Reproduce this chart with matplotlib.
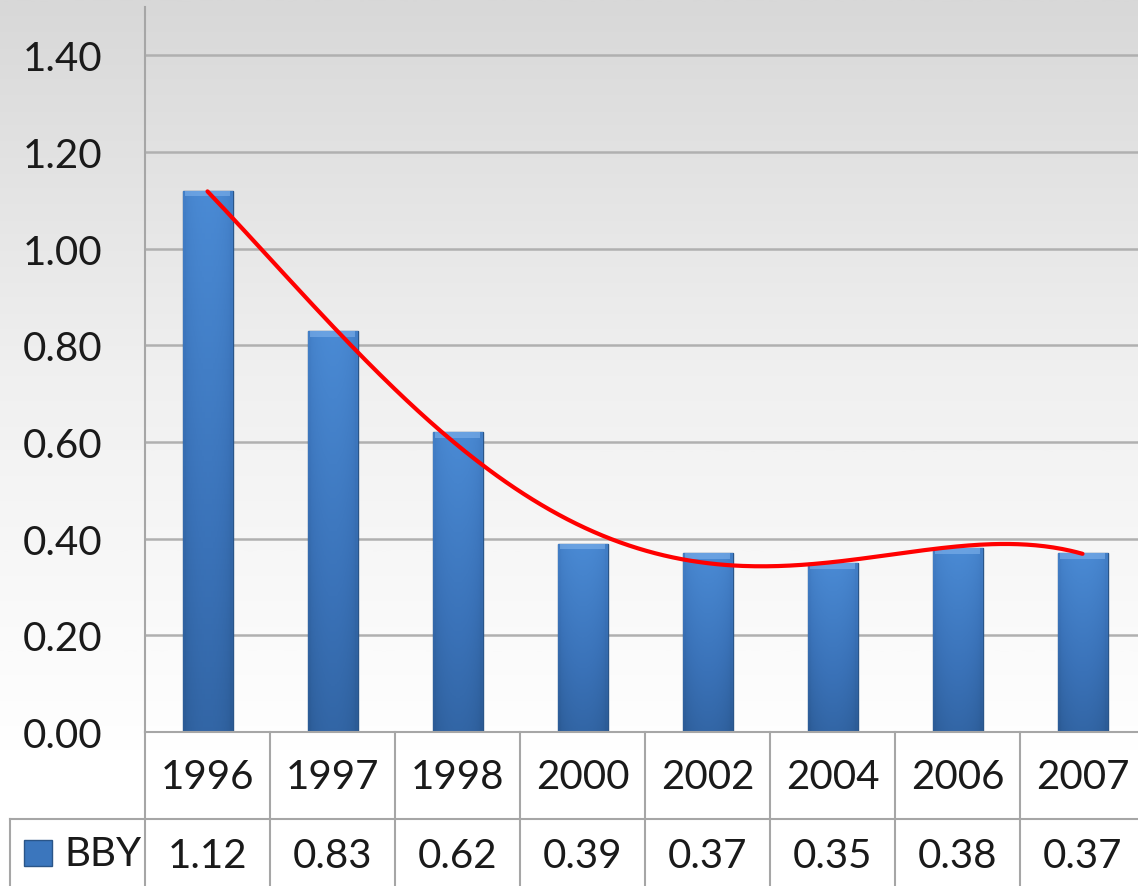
import numpy as np
import matplotlib
matplotlib.use("Agg")
import matplotlib.pyplot as plt
from matplotlib.colors import LinearSegmentedColormap
from matplotlib.transforms import blended_transform_factory

years = ["1996", "1997", "1998", "2000", "2002", "2004", "2006", "2007"]
values = [1.12, 0.83, 0.62, 0.39, 0.37, 0.35, 0.38, 0.37]
series_name = "BBY"
yticks = [0.0, 0.2, 0.4, 0.6, 0.8, 1.0, 1.2, 1.4]

plt.rcParams['font.family'] = ['Lato', 'DejaVu Sans']
W, H = 1138, 887
FS = 29
fig = plt.figure(figsize=(W / 100, H / 100), dpi=100)

# background gradient
bg = fig.add_axes([0, 0, 1, 1], zorder=-10)
bg.set_axis_off()
g = np.linspace(0, 1, 400).reshape(-1, 1)
g = np.clip(g / 0.85, 0, 1)
bgcmap = LinearSegmentedColormap.from_list("bg", ["#d8d8d8", "#f0f0f0", "#ffffff"])
bg.imshow(g, aspect='auto', cmap=bgcmap, extent=[0, 1, 0, 1], origin='upper')
bg.set_xlim(0, 1); bg.set_ylim(0, 1)

x0, x1 = 145, 1145
ytop, ybot = 8, 733
ax = fig.add_axes([x0 / W, 1 - ybot / H, (x1 - x0) / W, (ybot - ytop) / H])
ax.patch.set_alpha(0)
n = len(years)
xs = np.arange(n)
ax.set_xlim(-0.5, n - 0.5)
ax.set_ylim(0, 1.5)
for s in ['top', 'right', 'bottom']:
    ax.spines[s].set_visible(False)
ax.spines['left'].set_color('#a6a6a6')
ax.spines['left'].set_linewidth(1.5)
ax.set_yticks(yticks)
ax.set_yticklabels([f"{v:.2f}" for v in yticks], fontsize=FS, color='#1a1a1a')
ax.tick_params(axis='y', length=0, pad=31)
ax.set_xticks([])
for v in yticks[1:]:
    ax.axhline(v, color='#b0b0b0', lw=1.8, zorder=1)

bar_cmap = LinearSegmentedColormap.from_list("bar", ["#2b5a94", "#3a72b8", "#4a8ad4"])
bars = ax.bar(xs, values, width=0.4, color='#3b76bd', edgecolor='#2a5588', lw=1.0, zorder=2)
for b in bars:
    bx, by = b.get_x(), b.get_y()
    bw, bh = b.get_width(), b.get_height()
    hx = np.linspace(0, 1, 50)
    shade = 0.55 + 0.45 * np.sin(np.pi * np.clip(hx * 1.1 - 0.05, 0, 1)) ** 0.5
    vert = np.linspace(0, 1, 100).reshape(-1, 1)
    img = vert * 0.6 + 0.4 * shade.reshape(1, -1)
    im = ax.imshow(img, extent=[bx, bx + bw, by, by + bh], aspect='auto', origin='lower',
                   cmap=bar_cmap, vmin=0.2, vmax=1.0, zorder=2.5)
    im.set_clip_path(b)
    # subtle top bevel
    ax.fill_between([bx + 0.02, bx + bw - 0.02], by + bh - 0.012, by + bh,
                    color='#7fb2ec', alpha=0.6, zorder=2.6, lw=0)

# trend line (polynomial trendline)
coef = np.polyfit(xs + 1, values, 4)
xt = np.linspace(1, n, 300)
ax.plot(xt - 1, np.polyval(coef, xt), color='#ff0000', lw=3, zorder=4, solid_capstyle='round')

# data table
tb = blended_transform_factory(ax.transData, fig.transFigure)
ffig = lambda py: 1 - py / H
line_c = '#a6a6a6'
for k in range(n + 1):
    ax.plot([k - 0.5, k - 0.5], [ffig(733), ffig(887)], transform=tb, color=line_c, lw=1.5, clip_on=False)
fig.add_artist(plt.Line2D([10 / W, 1], [ffig(820), ffig(820)], color=line_c, lw=1.5))
fig.add_artist(plt.Line2D([10 / W, 10 / W], [ffig(820), 0], color=line_c, lw=1.5))
fig.add_artist(plt.Line2D([x0 / W, 1], [ffig(733), ffig(733)], color=line_c, lw=1.5))
for k, (yr, v) in enumerate(zip(years, values)):
    ax.text(k, ffig(778), yr, transform=tb, ha='center', va='center', fontsize=FS, color='#1a1a1a')
    ax.text(k, ffig(857), f"{v:.2f}", transform=tb, ha='center', va='center', fontsize=FS, color='#1a1a1a')
# legend key
fig.add_artist(plt.Rectangle((24 / W, ffig(867)), 28 / W, 26 / H, transform=fig.transFigure,
                             facecolor='#3b76bd', edgecolor='#2a5588', lw=1))
fig.text(64 / W, ffig(855), series_name, ha='left', va='center', fontsize=FS, color='#1a1a1a')

fig.savefig("out.png", dpi=100)
